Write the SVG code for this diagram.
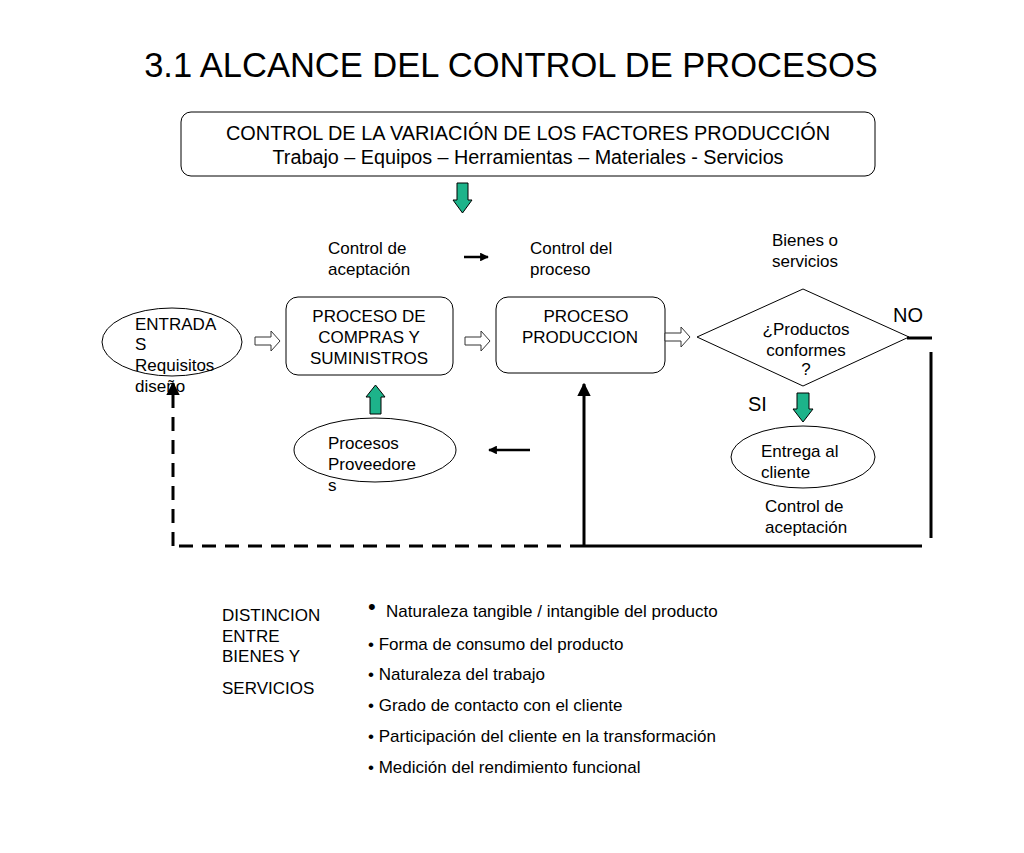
<svg xmlns="http://www.w3.org/2000/svg" width="1024" height="853" viewBox="0 0 1024 853">
<defs>
<style>
text{font-family:"Liberation Sans",Arial,sans-serif;fill:#000}
.t15{font-size:17px}
.t17{font-size:20px}
.box{fill:#fff;stroke:#000;stroke-width:1}
.hol{fill:#fff;stroke:#333;stroke-width:1}
.grn{fill:#1db38a;stroke:#000;stroke-width:1}
.thick{stroke:#000;stroke-width:3;fill:none}
.dash{stroke:#000;stroke-width:3;fill:none;stroke-dasharray:14,9}
</style>
<marker id="ah" viewBox="0 0 10 10" refX="9" refY="5" markerWidth="4.5" markerHeight="4.5" orient="auto-start-reverse" markerUnits="strokeWidth">
<path d="M0,0 L10,5 L0,10 z" fill="#000"/>
</marker>
<marker id="ah2" viewBox="0 0 10 10" refX="9" refY="5" markerWidth="4" markerHeight="3.5" orient="auto" markerUnits="strokeWidth">
<path d="M0,0 L10,5 L0,10 z" fill="#000"/>
</marker>
</defs>
<rect width="1024" height="853" fill="#fff"/>

<text x="511" y="77" font-size="34.5" text-anchor="middle">3.1 ALCANCE DEL CONTROL DE PROCESOS</text>

<g id="factores">
<rect class="box" x="181" y="112" width="694" height="64" rx="10"/>
<text x="528" y="140" font-size="19.5" text-anchor="middle" textLength="604" lengthAdjust="spacingAndGlyphs">CONTROL DE LA VARIACIÓN DE LOS FACTORES PRODUCCIÓN</text>
<text x="528" y="164" font-size="19.5" text-anchor="middle" textLength="511" lengthAdjust="spacingAndGlyphs">Trabajo – Equipos – Herramientas – Materiales - Servicios</text>
</g>

<g id="labels">
<text class="t15" x="328" y="254">Control de</text>
<text class="t15" x="328" y="275">aceptación</text>
<text class="t15" x="530" y="254">Control del</text>
<text class="t15" x="530" y="275">proceso</text>
<text class="t15" x="805" y="246" text-anchor="middle">Bienes o</text>
<text class="t15" x="805" y="267" text-anchor="middle">servicios</text>
<text class="t17" x="893" y="322">NO</text>
<text class="t17" x="748" y="411">SI</text>
<text class="t15" x="765" y="512">Control de</text>
<text class="t15" x="765" y="533">aceptación</text>
</g>

<g id="entradas">
<ellipse class="box" cx="172" cy="342" rx="70" ry="34"/>
<text class="t15" x="135" y="330">ENTRADA</text>
<text class="t15" x="135" y="350">S</text>
<text class="t15" x="135" y="371">Requisitos</text>
<text class="t15" x="135" y="392">diseño</text>
</g>

<g id="compras">
<rect class="box" x="286" y="297" width="167" height="78" rx="12"/>
<text class="t15" x="369" y="322" text-anchor="middle">PROCESO DE</text>
<text class="t15" x="369" y="343" text-anchor="middle">COMPRAS Y</text>
<text class="t15" x="369" y="364" text-anchor="middle">SUMINISTROS</text>
</g>

<g id="produccion">
<rect class="box" x="496" y="297" width="169" height="76" rx="12"/>
<text class="t15" x="586" y="322" text-anchor="middle">PROCESO</text>
<text class="t15" x="580" y="343" text-anchor="middle">PRODUCCION</text>
</g>

<g id="decision">
<polygon class="box" points="697,337 803,289 909,337 803,386"/>
<text class="t15" x="806" y="335" text-anchor="middle">¿Productos</text>
<text class="t15" x="806" y="356" text-anchor="middle">conformes</text>
<text class="t15" x="806" y="375" text-anchor="middle">?</text>
</g>

<g id="proveedores">
<ellipse class="box" cx="375" cy="450" rx="81" ry="32"/>
<text class="t15" x="328" y="449">Procesos</text>
<text class="t15" x="328" y="470">Proveedore</text>
<text class="t15" x="328" y="491">s</text>
</g>

<g id="entrega">
<ellipse class="box" cx="803" cy="457" rx="72" ry="31"/>
<text class="t15" x="761" y="457">Entrega al</text>
<text class="t15" x="761" y="478">cliente</text>
</g>

<g id="connectors">
<path class="hol" d="M255,337 h16 v-6 l9,10 l-9,10 v-6 h-16 z"/>
<path class="hol" d="M465,337 h16 v-6 l9,10 l-9,10 v-6 h-16 z"/>
<path class="hol" d="M665,333 h16 v-6 l9,10 l-9,10 v-6 h-16 z"/>
<path class="grn" d="M457,183 h11 v17 h4 l-9.5,13 l-9.5,-13 h4 z"/>
<path class="grn" d="M370,414 v-17 h-4 l9.5,-12 l9.5,12 h-4 v17 z"/>
<path class="grn" d="M797,393 h12 v16 h4 l-10,13 l-10,-13 h4 z"/>
<line x1="464" y1="257" x2="488" y2="257" stroke="#000" stroke-width="2.5" marker-end="url(#ah2)"/>
<line x1="530" y1="450" x2="489" y2="450" stroke="#000" stroke-width="2.5" marker-end="url(#ah2)"/>
<line class="thick" x1="907" y1="338" x2="932" y2="338"/>
<line class="thick" x1="931" y1="352" x2="931" y2="538"/>
<line class="thick" x1="922" y1="546" x2="584" y2="546"/>
<line class="thick" x1="584" y1="547" x2="584" y2="384" marker-end="url(#ah)"/>
<line class="dash" x1="584" y1="546" x2="173" y2="546"/>
<path class="dash" d="M173,546 V395"/>
<line stroke="#000" stroke-width="3" x1="173" y1="395" x2="173" y2="383" marker-end="url(#ah)"/>
</g>

<g id="distincion">
<text class="t15" x="222" y="621">DISTINCION</text>
<text class="t15" x="222" y="642">ENTRE</text>
<text class="t15" x="222" y="662">BIENES Y</text>
<text class="t15" x="222" y="694">SERVICIOS</text>
<text x="368" y="614" font-size="22">•</text>
<text class="t15" x="386" y="617">Naturaleza tangible / intangible del producto</text>
<text class="t15" x="368" y="650">• Forma de consumo del producto</text>
<text class="t15" x="368" y="680">• Naturaleza del trabajo</text>
<text class="t15" x="368" y="711">• Grado de contacto con el cliente</text>
<text class="t15" x="368" y="742">• Participación del cliente en la transformación</text>
<text class="t15" x="368" y="773">• Medición del rendimiento funcional</text>
</g>
</svg>
